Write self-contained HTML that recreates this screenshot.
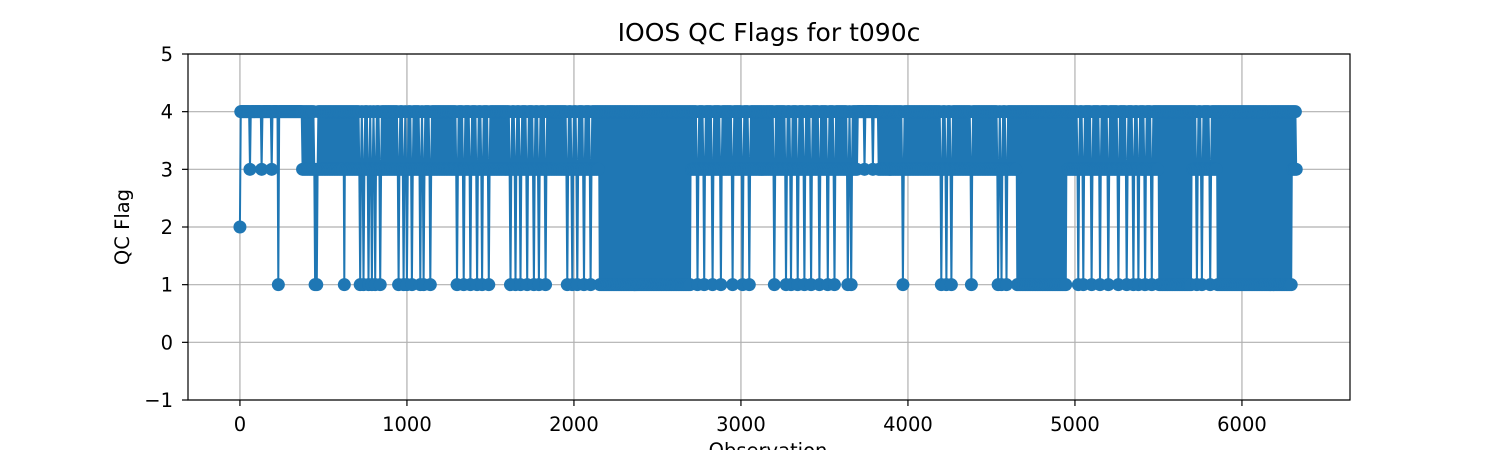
<!DOCTYPE html>
<html><head><meta charset="utf-8">
<style>
html,body{margin:0;padding:0;background:#fff;width:1500px;height:450px;overflow:hidden}
svg{display:block;font-family:"DejaVu Sans","Liberation Sans",sans-serif}
</style></head>
<body>
<svg id="chart" width="1500" height="450" viewBox="0 0 1500 450">
  <text x="769" y="41" text-anchor="middle" font-size="25" fill="#000">IOOS QC Flags for t090c</text>
  <g id="grid"></g>
  <g id="series"></g>
  <rect x="188" y="54" width="1162" height="346" fill="none" stroke="#000" stroke-width="1.2"/>
  <g id="xticks"></g>
  <g id="yticks"></g>
  <text x="768" y="457" text-anchor="middle" font-size="19.5">Observation</text>
  <text transform="translate(129,227) rotate(-90)" text-anchor="middle" font-size="19.5">QC Flag</text>
</svg>
<script>
// ---- data ----
const xTicks = [0, 1000, 2000, 3000, 4000, 5000, 6000];
const yTicks = [-1, 0, 1, 2, 3, 4, 5];
const nObs = 6330;
// regions where flags oscillate densely between 1 and 4
const denseStart = [2150, 4650, 5500, 5850];
const denseEnd   = [2700, 4950, 5700, 6300];
// regions where flag stays mostly at 4
const sparseStart = [0, 3700];
const sparseEnd   = [370, 3820];
// isolated dips to flag 3 inside sparse regions
const dip3Obs = [60, 130, 190, 230, 3740, 3790];
// isolated drops to flag 1
const spikeObs = [230, 450, 460, 625, 720, 740, 770, 790, 810, 840, 950, 980, 1000, 1030, 1080, 1100, 1140,
  1300, 1340, 1380, 1420, 1450, 1490, 1620, 1650, 1680, 1720, 1760, 1790, 1830, 1960, 1990, 2020, 2060, 2100,
  2740, 2780, 2830, 2880, 2950, 3010, 3050, 3200, 3270, 3300, 3340, 3380, 3420, 3470, 3520, 3560, 3640, 3660,
  3970, 4200, 4230, 4260, 4380, 4540, 4560, 4590, 5020, 5050, 5100, 5150, 5200, 5260, 5310, 5350, 5380, 5420,
  5460, 5730, 5760, 5810];

// ---- axes ----
const xMin = -311, xMax = 6647, yMin = -1, yMax = 5;
const L = 188, R = 1350, T = 54, B = 400;
const sx = v => L + (v - xMin) / (xMax - xMin) * (R - L);
const sy = v => B - (v - yMin) / (yMax - yMin) * (B - T);
const NS = "http://www.w3.org/2000/svg";
function mk(tag, attrs, parent) {
  const e = document.createElementNS(NS, tag);
  for (const k in attrs) e.setAttribute(k, attrs[k]);
  parent.appendChild(e);
  return e;
}
const grid = document.getElementById('grid');
const xg = document.getElementById('xticks');
const yg = document.getElementById('yticks');
xTicks.forEach(t => {
  const gl = mk('line', {x1: sx(t), x2: sx(t), y1: T, y2: B, stroke: '#b0b0b0', 'stroke-width': 1.2}, grid);
  
  
  const tk = mk('line', {x1: sx(t), x2: sx(t), y1: B, y2: B + 6, stroke: '#000', 'stroke-width': 1.2}, xg);
  
  
  const tx = mk('text', {x: sx(t), y: B + 31, 'text-anchor': 'middle', 'font-size': 19.5}, xg);
  tx.textContent = t;
  
  
});
yTicks.forEach(t => {
  const gl = mk('line', {x1: L, x2: R, y1: sy(t), y2: sy(t), stroke: '#b0b0b0', 'stroke-width': 1.2}, grid);
  
  
  const tk = mk('line', {x1: L - 6, x2: L, y1: sy(t), y2: sy(t), stroke: '#000', 'stroke-width': 1.2}, yg);
  
  
  const tx = mk('text', {x: L - 15, y: sy(t) + 7, 'text-anchor': 'end', 'font-size': 19.5}, yg);
  tx.textContent = t < 0 ? '\u2212' + (-t) : t;
  
  
});

// ---- build sequence from regions ----
const inR = (o, s, e) => s.some((v, i) => o >= v && o < e[i]);
const obs = [0], flag = [2];
let toggle = 0;
const spikeSet = new Set(spikeObs.map(v => Math.round(v / 5) * 5));
const dipSet = new Set(dip3Obs.map(v => Math.round(v / 5) * 5));
for (let o = 5; o < nObs; o += 5) {
  toggle ^= 1;
  let f;
  if (inR(o, denseStart, denseEnd)) f = toggle ? 1 : 4;
  else if (inR(o, sparseStart, sparseEnd)) f = dipSet.has(o) ? 3 : 4;
  else f = toggle ? 3 : 4;
  if (spikeSet.has(o)) f = 1;
  obs.push(o); flag.push(f);
}

const sg = document.getElementById('series');
const pts = obs.map((o, i) => sx(o).toFixed(1) + ',' + sy(flag[i]).toFixed(1)).join(' ');
const pl = mk('polyline', {points: pts, fill: 'none', stroke: '#1f77b4', 'stroke-width': 2}, sg);


obs.forEach((o, i) => {
  const c = mk('circle', {cx: sx(o), cy: sy(flag[i]), r: 6.5, fill: '#1f77b4'}, sg);
  
  
});
</script>
</body></html>
